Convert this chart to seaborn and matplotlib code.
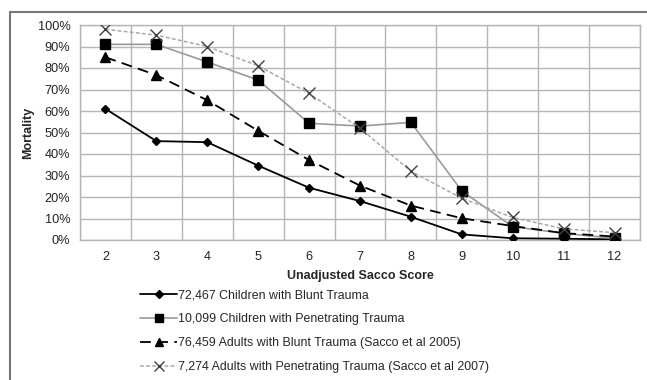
import numpy as np
import pandas as pd
import matplotlib
matplotlib.use("Agg")
import matplotlib.pyplot as plt
from matplotlib.lines import Line2D
import seaborn as sns

# Dữ liệu
scores = [2, 3, 4, 5, 6, 7, 8, 9, 10, 11, 12]
children_blunt = [61, 46, 45.5, 34.6, 24.3, 18.1, 10.8, 2.6, 0.8, 0.6, 0.3]
children_pen = [91, 91, 82.8, 74.4, 54.3, 53, 54.7, 22.8, 6.2, 3.1, 0.8]
adults_blunt = [85, 76.7, 65, 50.8, 37.2, 25.3, 16, 10.1, 6.5, 3.2, 1.6]
adults_pen = [98, 95.3, 90, 81, 68.2, 52, 32, 19.4, 10.5, 5.2, 3.4]

labels = [
    "72,467 Children with Blunt Trauma",
    "10,099 Children with Penetrating Trauma",
    "76,459 Adults with Blunt Trauma (Sacco et al 2005)",
    "7,274 Adults with Penetrating Trauma (Sacco et al 2007)",
]

sns.set_theme(style="white")
plt.rcParams['font.family'] = ['Liberation Sans', 'DejaVu Sans']

fig = plt.figure(figsize=(6.47, 3.80), dpi=100)
ax = fig.add_axes([80 / 647, 1 - 240 / 380, 560 / 647, 215 / 380])

styles = [
    dict(color="black", linestyle="-", marker="D", markersize=4.5, mfc="black", mec="black", lw=1.3),
    dict(color="#9a9a9a", linestyle="-", marker="s", markersize=7, mfc="black", mec="black", lw=1.2),
    dict(color="black", linestyle=(0, (6, 3.5)), marker="^", markersize=6.5, mfc="black", mec="black", lw=1.3),
    dict(color="#a8a8a8", linestyle=(0, (2.5, 1.5)), marker="x", markersize=8, mfc="#404040", mec="#404040", lw=1.1),
]

series = [children_blunt, children_pen, adults_blunt, adults_pen]
for vals, st, lab in zip(series, styles, labels):
    df = pd.DataFrame({"score": scores, "mort": vals})
    sns.lineplot(data=df, x="score", y="mort", ax=ax, color=st["color"],
                 linestyle=st["linestyle"], linewidth=st["lw"], marker=st["marker"],
                 markersize=st["markersize"], markerfacecolor=st["mfc"],
                 markeredgecolor=st["mec"], markeredgewidth=1.0, legend=False, zorder=3)

ax.set_xlim(1.5, 12.5)
ax.set_ylim(0, 100)
ax.set_xticks(scores)
ax.set_xticklabels([str(s) for s in scores])
ax.set_xticks(np.arange(1.5, 13, 1), minor=True)
ax.set_yticks(np.arange(0, 101, 10))
ax.set_yticklabels([f"{v}%" for v in range(0, 101, 10)])
ax.grid(False)
ax.grid(True, which="minor", axis="x", color="#b5b5b5", lw=1.0)
ax.grid(True, which="major", axis="y", color="#b5b5b5", lw=1.0)
ax.tick_params(axis="both", which="both", length=0, labelsize=9.2, colors="#222222")
ax.tick_params(axis="x", pad=8)
ax.tick_params(axis="y", pad=7)
for s in ax.spines.values():
    s.set_color("#b5b5b5")
    s.set_linewidth(1.0)

ax.set_xlabel("Unadjusted Sacco Score", fontsize=9, fontweight="bold", labelpad=5)
ax.set_ylabel("Mortality", fontsize=9, fontweight="bold", labelpad=2.5)

handles = [Line2D([], [], color=st["color"], linestyle=st["linestyle"], lw=st["lw"],
                  marker=st["marker"], markersize=st["markersize"] * 0.85, mfc=st["mfc"], mec=st["mec"])
           for st in styles]
fig.legend(handles, labels, loc="upper left", bbox_to_anchor=(140 / 647, 1 - 289 / 380),
           frameon=False, fontsize=8.9, handlelength=3.0, handletextpad=0.1,
           labelspacing=0.97, borderpad=0, borderaxespad=0)

# Khung ngoài của hình
fig.add_artist(Line2D([10 / 647, 1.0], [1 - 12 / 380, 1 - 12 / 380], transform=fig.transFigure,
                      color="#777777", lw=1.5))
fig.add_artist(Line2D([10 / 647, 10 / 647], [0, 1 - 12 / 380], transform=fig.transFigure,
                      color="#777777", lw=1.5))

fig.savefig("out.png", dpi=100)
